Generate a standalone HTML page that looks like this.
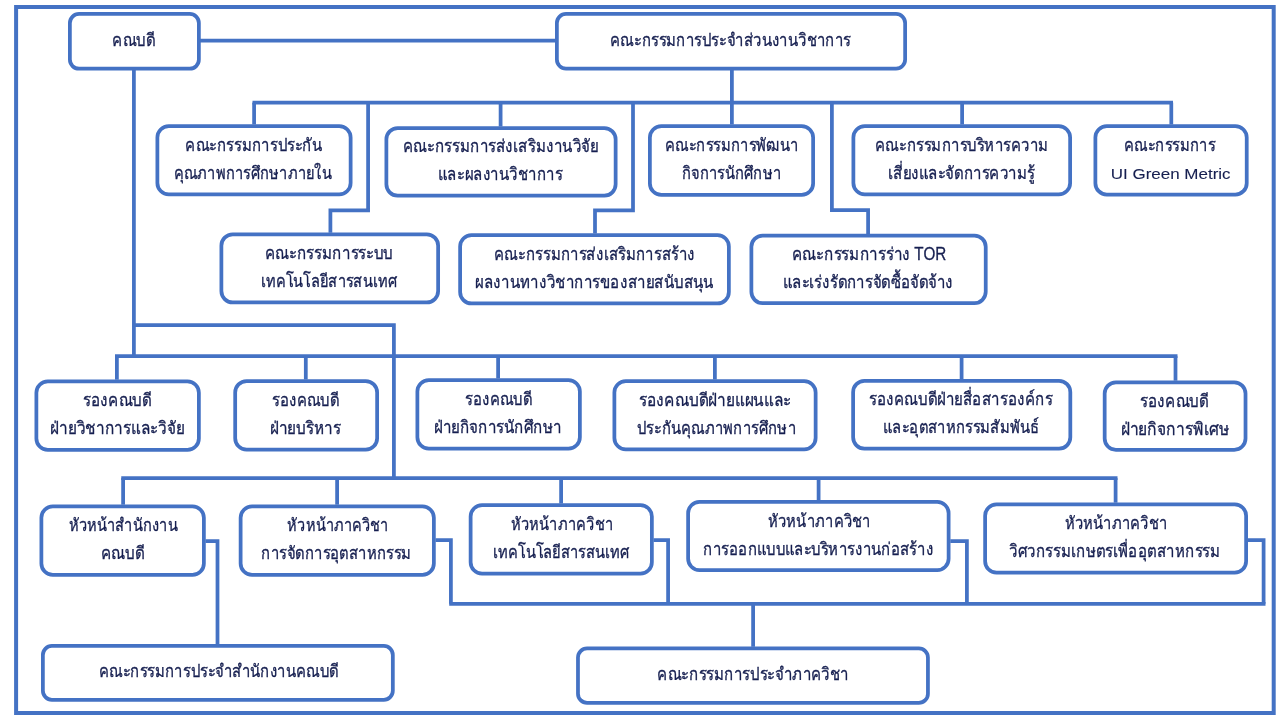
<!DOCTYPE html><html><head><meta charset="utf-8"><style>html,body{margin:0;padding:0;background:#fff;width:1280px;height:720px;overflow:hidden}svg{display:block}text{font-family:"Liberation Sans",sans-serif;fill:#161f50;stroke:#161f50;stroke-width:0.3px}</style></head><body>
<svg width="1280" height="720" viewBox="0 0 1280 720">
<g fill="none" stroke="#4472C4" stroke-width="3.75" stroke-linejoin="miter" stroke-linecap="square">
<rect x="16.1" y="7" width="1257.6" height="706" stroke-width="4" stroke-linecap="butt"/>
<path d="M200.00 40.60 L555.00 40.60" stroke-linecap="butt"/>
<path d="M133.90 70.00 L133.90 356.10" stroke-linecap="butt"/>
<path d="M133.90 325.00 L393.90 325.00 L393.90 478.10" stroke-linecap="butt"/>
<path d="M731.90 70.00 L731.90 124.50" stroke-linecap="butt"/>
<path d="M252.50 102.60 L1173.00 102.60" stroke-linecap="butt"/>
<path d="M254.10 102.60 L254.10 124.50" stroke-linecap="butt"/>
<path d="M368.10 102.60 L368.10 210.40 L330.40 210.40 L330.40 232.70" stroke-linecap="butt"/>
<path d="M500.60 102.60 L500.60 126.50" stroke-linecap="butt"/>
<path d="M633.00 102.60 L633.00 210.40 L595.00 210.40 L595.00 233.50" stroke-linecap="butt"/>
<path d="M831.90 102.60 L831.90 210.00 L868.10 210.00 L868.10 234.00" stroke-linecap="butt"/>
<path d="M962.10 102.60 L962.10 124.50" stroke-linecap="butt"/>
<path d="M1171.30 102.60 L1171.30 124.50" stroke-linecap="butt"/>
<path d="M115.00 356.10 L1177.50 356.10" stroke-linecap="butt"/>
<path d="M116.90 356.10 L116.90 379.70" stroke-linecap="butt"/>
<path d="M305.80 356.10 L305.80 379.50" stroke-linecap="butt"/>
<path d="M498.10 356.10 L498.10 378.50" stroke-linecap="butt"/>
<path d="M714.90 356.10 L714.90 379.50" stroke-linecap="butt"/>
<path d="M961.60 356.10 L961.60 379.30" stroke-linecap="butt"/>
<path d="M1175.50 356.10 L1175.50 380.70" stroke-linecap="butt"/>
<path d="M121.25 478.10 L1117.50 478.10" stroke-linecap="butt"/>
<path d="M123.10 478.10 L123.10 504.70" stroke-linecap="butt"/>
<path d="M337.10 478.10 L337.10 504.70" stroke-linecap="butt"/>
<path d="M561.10 478.10 L561.10 503.50" stroke-linecap="butt"/>
<path d="M818.60 478.10 L818.60 500.20" stroke-linecap="butt"/>
<path d="M1115.60 478.10 L1115.60 502.70" stroke-linecap="butt"/>
<path d="M205.50 541.10 L217.50 541.10 L217.50 644.50" stroke-linecap="butt"/>
<path d="M435.50 540.10 L450.90 540.10 L450.90 603.75" stroke-linecap="butt"/>
<path d="M653.50 540.10 L668.10 540.10 L668.10 603.75" stroke-linecap="butt"/>
<path d="M950.30 541.10 L966.90 541.10 L966.90 603.75" stroke-linecap="butt"/>
<path d="M1247.80 540.10 L1263.60 540.10 L1263.60 603.75" stroke-linecap="butt"/>
<path d="M449.20 603.75 L1265.50 603.75" stroke-linecap="butt"/>
<path d="M753.10 603.75 L753.10 646.80" stroke-linecap="butt"/>
<rect x="69.88" y="13.88" width="129.00" height="54.85" rx="9.14" fill="#fff"/>
<rect x="556.88" y="13.88" width="348.25" height="54.75" rx="9.12" fill="#fff"/>
<rect x="157.38" y="126.12" width="193.25" height="68.25" rx="11.38" fill="#fff"/>
<rect x="386.38" y="128.12" width="229.25" height="67.50" rx="11.25" fill="#fff"/>
<rect x="649.88" y="126.12" width="163.25" height="68.75" rx="11.46" fill="#fff"/>
<rect x="853.38" y="126.12" width="216.75" height="68.25" rx="11.38" fill="#fff"/>
<rect x="1095.38" y="126.17" width="151.35" height="68.35" rx="11.39" fill="#fff"/>
<rect x="221.38" y="234.38" width="216.75" height="68.00" rx="11.33" fill="#fff"/>
<rect x="460.12" y="235.12" width="268.75" height="68.30" rx="11.38" fill="#fff"/>
<rect x="751.38" y="235.57" width="234.35" height="67.55" rx="11.26" fill="#fff"/>
<rect x="36.38" y="381.38" width="162.50" height="68.50" rx="11.42" fill="#fff"/>
<rect x="235.18" y="381.07" width="141.95" height="68.55" rx="11.43" fill="#fff"/>
<rect x="417.38" y="380.12" width="162.50" height="68.50" rx="11.42" fill="#fff"/>
<rect x="614.38" y="381.12" width="201.25" height="68.25" rx="11.38" fill="#fff"/>
<rect x="853.12" y="380.88" width="217.20" height="67.75" rx="11.29" fill="#fff"/>
<rect x="1104.67" y="382.38" width="140.85" height="67.45" rx="11.24" fill="#fff"/>
<rect x="41.38" y="506.38" width="162.50" height="68.50" rx="11.42" fill="#fff"/>
<rect x="240.62" y="506.38" width="193.25" height="68.50" rx="11.42" fill="#fff"/>
<rect x="470.62" y="505.12" width="181.25" height="68.50" rx="11.42" fill="#fff"/>
<rect x="688.12" y="501.88" width="260.50" height="68.25" rx="11.38" fill="#fff"/>
<rect x="985.12" y="504.38" width="261.00" height="68.25" rx="11.38" fill="#fff"/>
<rect x="42.88" y="645.98" width="349.95" height="53.85" rx="8.98" fill="#fff"/>
<rect x="577.98" y="648.48" width="349.95" height="54.35" rx="9.06" fill="#fff"/>
</g>
</svg><svg width="1280" height="720" viewBox="0 0 1280 720" style="position:absolute;left:0;top:0;will-change:transform"><g>
<text x="133.70" y="45.85" font-size="17.5" text-anchor="middle" textLength="42.95" lengthAdjust="spacingAndGlyphs">คณบดี</text>
<text x="730.50" y="45.80" font-size="17.5" text-anchor="middle" textLength="240.86" lengthAdjust="spacingAndGlyphs">คณะกรรมการประจำส่วนงานวิชาการ</text>
<text x="253.75" y="150.80" font-size="17.5" text-anchor="middle" textLength="136.61" lengthAdjust="spacingAndGlyphs">คณะกรรมการประกัน</text>
<text x="253.00" y="178.80" font-size="17.5" text-anchor="middle" textLength="157.84" lengthAdjust="spacingAndGlyphs">คุณภาพการศึกษาภายใน</text>
<text x="500.75" y="152.43" font-size="17.5" text-anchor="middle" textLength="195.48" lengthAdjust="spacingAndGlyphs">คณะกรรมการส่งเสริมงานวิจัย</text>
<text x="500.25" y="180.43" font-size="17.5" text-anchor="middle" textLength="124.49" lengthAdjust="spacingAndGlyphs">และผลงานวิชาการ</text>
<text x="731.90" y="151.05" font-size="17.5" text-anchor="middle" textLength="133.37" lengthAdjust="spacingAndGlyphs">คณะกรรมการพัฒนา</text>
<text x="731.50" y="179.05" font-size="17.5" text-anchor="middle" textLength="99.04" lengthAdjust="spacingAndGlyphs">กิจการนักศึกษา</text>
<text x="961.80" y="150.80" font-size="17.5" text-anchor="middle" textLength="173.28" lengthAdjust="spacingAndGlyphs">คณะกรรมการบริหารความ</text>
<text x="961.40" y="178.80" font-size="17.5" text-anchor="middle" textLength="146.97" lengthAdjust="spacingAndGlyphs">เสี่ยงและจัดการความรู้</text>
<text x="1169.80" y="150.90" font-size="17.5" text-anchor="middle" textLength="90.98" lengthAdjust="spacingAndGlyphs">คณะกรรมการ</text>
<text x="1170.70" y="179.30" font-size="15.5" text-anchor="middle" textLength="119.73" lengthAdjust="spacingAndGlyphs" style="stroke-width:0.1px">UI Green Metric</text>
<text x="328.90" y="258.93" font-size="17.5" text-anchor="middle" textLength="128.05" lengthAdjust="spacingAndGlyphs">คณะกรรมการระบบ</text>
<text x="328.90" y="286.93" font-size="17.5" text-anchor="middle" textLength="135.76" lengthAdjust="spacingAndGlyphs">เทคโนโลยีสารสนเทศ</text>
<text x="594.55" y="259.82" font-size="17.5" text-anchor="middle" textLength="200.84" lengthAdjust="spacingAndGlyphs">คณะกรรมการส่งเสริมการสร้าง</text>
<text x="594.38" y="287.82" font-size="17.5" text-anchor="middle" textLength="238.59" lengthAdjust="spacingAndGlyphs">ผลงานทางวิชาการของสายสนับสนุน</text>
<text x="869.00" y="259.90" font-size="17.5" text-anchor="middle" textLength="154.52" lengthAdjust="spacingAndGlyphs">คณะกรรมการร่าง TOR</text>
<text x="868.00" y="287.90" font-size="17.5" text-anchor="middle" textLength="170.38" lengthAdjust="spacingAndGlyphs">และเร่งรัดการจัดซื้อจัดจ้าง</text>
<text x="117.25" y="406.18" font-size="17.5" text-anchor="middle" textLength="68.50" lengthAdjust="spacingAndGlyphs">รองคณบดี</text>
<text x="117.50" y="434.18" font-size="17.5" text-anchor="middle" textLength="134.27" lengthAdjust="spacingAndGlyphs">ฝ่ายวิชาการและวิจัย</text>
<text x="305.50" y="405.90" font-size="17.5" text-anchor="middle" textLength="67.23" lengthAdjust="spacingAndGlyphs">รองคณบดี</text>
<text x="305.40" y="433.90" font-size="17.5" text-anchor="middle" textLength="70.88" lengthAdjust="spacingAndGlyphs">ฝ่ายบริหาร</text>
<text x="498.50" y="404.93" font-size="17.5" text-anchor="middle" textLength="67.23" lengthAdjust="spacingAndGlyphs">รองคณบดี</text>
<text x="498.00" y="432.93" font-size="17.5" text-anchor="middle" textLength="128.19" lengthAdjust="spacingAndGlyphs">ฝ่ายกิจการนักศึกษา</text>
<text x="715.00" y="405.80" font-size="17.5" text-anchor="middle" textLength="152.77" lengthAdjust="spacingAndGlyphs">รองคณบดีฝ่ายแผนและ</text>
<text x="716.50" y="433.80" font-size="17.5" text-anchor="middle" textLength="159.06" lengthAdjust="spacingAndGlyphs">ประกันคุณภาพการศึกษา</text>
<text x="960.80" y="405.30" font-size="17.5" text-anchor="middle" textLength="183.56" lengthAdjust="spacingAndGlyphs">รองคณบดีฝ่ายสื่อสารองค์กร</text>
<text x="961.25" y="433.30" font-size="17.5" text-anchor="middle" textLength="156.33" lengthAdjust="spacingAndGlyphs">และอุตสาหกรรมสัมพันธ์</text>
<text x="1174.30" y="406.65" font-size="17.5" text-anchor="middle" textLength="68.44" lengthAdjust="spacingAndGlyphs">รองคณบดี</text>
<text x="1175.00" y="434.65" font-size="17.5" text-anchor="middle" textLength="108.78" lengthAdjust="spacingAndGlyphs">ฝ่ายกิจการพิเศษ</text>
<text x="123.25" y="531.17" font-size="17.5" text-anchor="middle" textLength="109.12" lengthAdjust="spacingAndGlyphs">หัวหน้าสำนักงาน</text>
<text x="122.75" y="559.17" font-size="17.5" text-anchor="middle" textLength="43.54" lengthAdjust="spacingAndGlyphs">คณบดี</text>
<text x="338.00" y="531.17" font-size="17.5" text-anchor="middle" textLength="101.04" lengthAdjust="spacingAndGlyphs">หัวหน้าภาควิชา</text>
<text x="336.50" y="559.17" font-size="17.5" text-anchor="middle" textLength="150.05" lengthAdjust="spacingAndGlyphs">การจัดการอุตสาหกรรม</text>
<text x="562.00" y="529.92" font-size="17.5" text-anchor="middle" textLength="102.04" lengthAdjust="spacingAndGlyphs">หัวหน้าภาควิชา</text>
<text x="561.25" y="557.92" font-size="17.5" text-anchor="middle" textLength="136.60" lengthAdjust="spacingAndGlyphs">เทคโนโลยีสารสนเทศ</text>
<text x="819.25" y="526.55" font-size="17.5" text-anchor="middle" textLength="102.82" lengthAdjust="spacingAndGlyphs">หัวหน้าภาควิชา</text>
<text x="818.25" y="554.55" font-size="17.5" text-anchor="middle" textLength="230.06" lengthAdjust="spacingAndGlyphs">การออกแบบและบริหารงานก่อสร้าง</text>
<text x="1116.00" y="529.05" font-size="17.5" text-anchor="middle" textLength="102.54" lengthAdjust="spacingAndGlyphs">หัวหน้าภาควิชา</text>
<text x="1114.75" y="557.05" font-size="17.5" text-anchor="middle" textLength="211.34" lengthAdjust="spacingAndGlyphs">วิศวกรรมเกษตรเพื่ออุตสาหกรรม</text>
<text x="218.70" y="677.45" font-size="17.5" text-anchor="middle" textLength="239.70" lengthAdjust="spacingAndGlyphs">คณะกรรมการประจำสำนักงานคณบดี</text>
<text x="753.20" y="680.20" font-size="17.5" text-anchor="middle" textLength="191.58" lengthAdjust="spacingAndGlyphs">คณะกรรมการประจำภาควิชา</text>
</g>
</svg></body></html>
